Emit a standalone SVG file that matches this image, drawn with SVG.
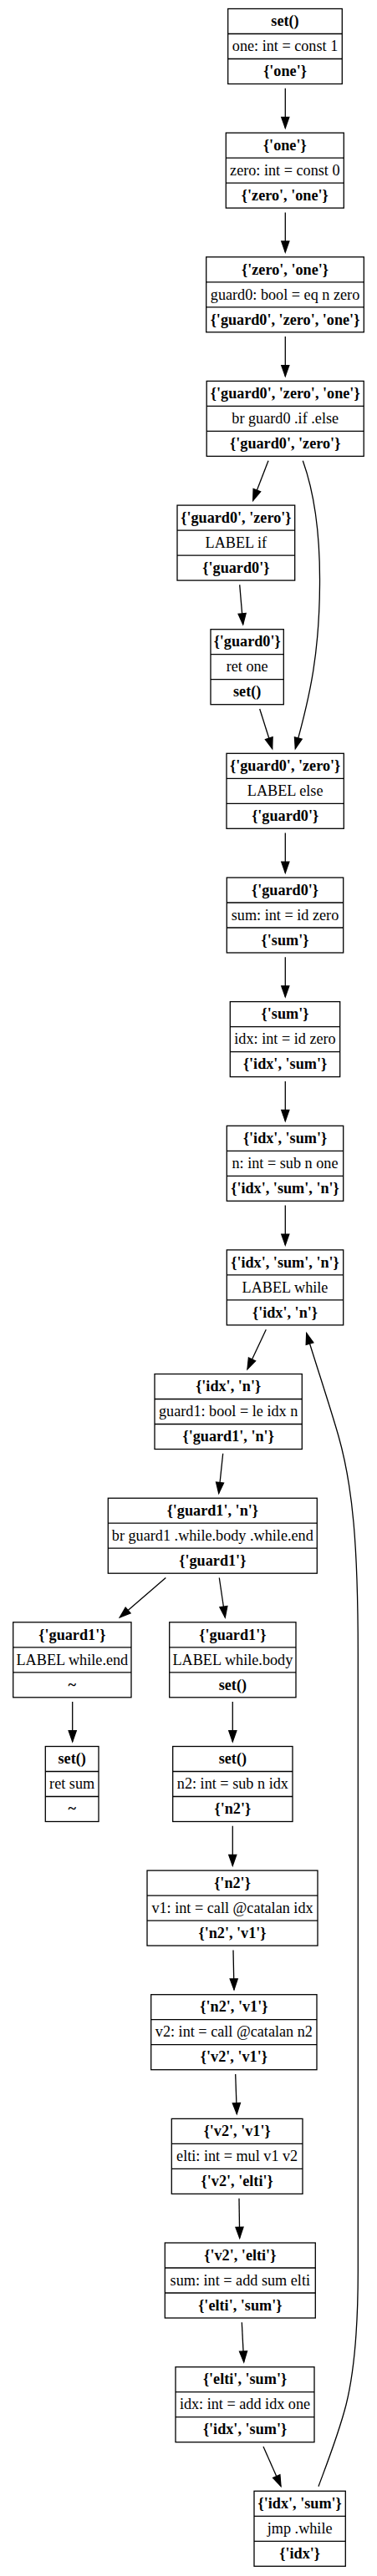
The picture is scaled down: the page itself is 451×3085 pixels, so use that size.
<svg xmlns="http://www.w3.org/2000/svg" width="451" height="3085" viewBox="0 0 451 3085">
<style>
.bx{fill:none;stroke:#000;stroke-width:1.3}
text{font-family:"Liberation Serif","Times New Roman",serif;font-size:18.2px;text-anchor:middle;fill:#000}
.b{font-weight:bold}
.e{fill:none;stroke:#000;stroke-width:1.3;marker-end:url(#arr)}
</style>
<defs>
<marker id="arr" markerUnits="userSpaceOnUse" markerWidth="16" markerHeight="12" viewBox="-1 -1 16 12" refX="13" refY="4.55" orient="auto" overflow="visible">
<path d="M0,0 L13,4.55 L0,9.1 z" fill="#000" stroke="#000" stroke-width="1.3"/>
</marker>
</defs>
<rect width="451" height="3085" fill="#fff"/>

<g id="n1" transform="translate(341,10.5)"><rect class="bx" x="-68.3" y="0" width="136.6" height="90"/><path class="bx" d="M-68.3,30H68.3M-68.3,60H68.3"/><text class="b" y="20.8">set()</text><text y="50.8">one: int = const 1</text><text class="b" y="80.8">{'one'}</text></g>

<g id="n2" transform="translate(340.8,159.1)"><rect class="bx" x="-70.5" y="0" width="141" height="90"/><path class="bx" d="M-70.5,30H70.5M-70.5,60H70.5"/><text class="b" y="20.8">{'one'}</text><text y="50.8">zero: int = const 0</text><text class="b" y="80.8">{'zero', 'one'}</text></g>

<g id="n3" transform="translate(341,307.8)"><rect class="bx" x="-94.3" y="0" width="188.6" height="90"/><path class="bx" d="M-94.3,30H94.3M-94.3,60H94.3"/><text class="b" y="20.8">{'zero', 'one'}</text><text y="50.8">guard0: bool = eq n zero</text><text class="b" y="80.8">{'guard0', 'zero', 'one'}</text></g>

<g id="n4" transform="translate(341.2,456.4)"><rect class="bx" x="-94" y="0" width="188" height="90"/><path class="bx" d="M-94,30H94M-94,60H94"/><text class="b" y="20.8">{'guard0', 'zero', 'one'}</text><text y="50.8">br guard0 .if .else</text><text class="b" y="80.8">{'guard0', 'zero'}</text></g>

<g id="n5" transform="translate(282.35,605.1)"><rect class="bx" x="-70.35" y="0" width="140.7" height="90"/><path class="bx" d="M-70.35,30H70.35M-70.35,60H70.35"/><text class="b" y="20.8">{'guard0', 'zero'}</text><text y="50.8">LABEL if</text><text class="b" y="80.8">{'guard0'}</text></g>

<g id="n6" transform="translate(295.65,753.7)"><rect class="bx" x="-43.65" y="0" width="87.3" height="90"/><path class="bx" d="M-43.65,30H43.65M-43.65,60H43.65"/><text class="b" y="20.8">{'guard0'}</text><text y="50.8">ret one</text><text class="b" y="80.8">set()</text></g>

<g id="n7" transform="translate(341.15,902.3)"><rect class="bx" x="-70.15" y="0" width="140.3" height="90"/><path class="bx" d="M-70.15,30H70.15M-70.15,60H70.15"/><text class="b" y="20.8">{'guard0', 'zero'}</text><text y="50.8">LABEL else</text><text class="b" y="80.8">{'guard0'}</text></g>

<g id="n8" transform="translate(341,1051)"><rect class="bx" x="-69.7" y="0" width="139.4" height="90"/><path class="bx" d="M-69.7,30H69.7M-69.7,60H69.7"/><text class="b" y="20.8">{'guard0'}</text><text y="50.8">sum: int = id zero</text><text class="b" y="80.8">{'sum'}</text></g>

<g id="n9" transform="translate(341,1199.6)"><rect class="bx" x="-65.7" y="0" width="131.4" height="90"/><path class="bx" d="M-65.7,30H65.7M-65.7,60H65.7"/><text class="b" y="20.8">{'sum'}</text><text y="50.8">idx: int = id zero</text><text class="b" y="80.8">{'idx', 'sum'}</text></g>

<g id="n10" transform="translate(341,1348.3)"><rect class="bx" x="-69.7" y="0" width="139.4" height="90"/><path class="bx" d="M-69.7,30H69.7M-69.7,60H69.7"/><text class="b" y="20.8">{'idx', 'sum'}</text><text y="50.8">n: int = sub n one</text><text class="b" y="80.8">{'idx', 'sum', 'n'}</text></g>

<g id="n11" transform="translate(341,1496.9)"><rect class="bx" x="-69.7" y="0" width="139.4" height="90"/><path class="bx" d="M-69.7,30H69.7M-69.7,60H69.7"/><text class="b" y="20.8">{'idx', 'sum', 'n'}</text><text y="50.8">LABEL while</text><text class="b" y="80.8">{'idx', 'n'}</text></g>

<g id="n12" transform="translate(273.15,1645.5)"><rect class="bx" x="-88.15" y="0" width="176.3" height="90"/><path class="bx" d="M-88.15,30H88.15M-88.15,60H88.15"/><text class="b" y="20.8">{'idx', 'n'}</text><text y="50.8">guard1: bool = le idx n</text><text class="b" y="80.8">{'guard1', 'n'}</text></g>

<g id="n13" transform="translate(254.3,1794.2)"><rect class="bx" x="-125" y="0" width="250" height="90"/><path class="bx" d="M-125,30H125M-125,60H125"/><text class="b" y="20.8">{'guard1', 'n'}</text><text y="50.8">br guard1 .while.body .while.end</text><text class="b" y="80.8">{'guard1'}</text></g>

<g id="n14" transform="translate(86.35,1942.8)"><rect class="bx" x="-70.65" y="0" width="141.3" height="90"/><path class="bx" d="M-70.65,30H70.65M-70.65,60H70.65"/><text class="b" y="20.8">{'guard1'}</text><text y="50.8">LABEL while.end</text><text class="b" y="80.8">~</text></g>

<g id="n15" transform="translate(278.35,1942.8)"><rect class="bx" x="-75.65" y="0" width="151.3" height="90"/><path class="bx" d="M-75.65,30H75.65M-75.65,60H75.65"/><text class="b" y="20.8">{'guard1'}</text><text y="50.8">LABEL while.body</text><text class="b" y="80.8">set()</text></g>

<g id="n16" transform="translate(86.15,2091.5)"><rect class="bx" x="-31.85" y="0" width="63.7" height="90"/><path class="bx" d="M-31.85,30H31.85M-31.85,60H31.85"/><text class="b" y="20.8">set()</text><text y="50.8">ret sum</text><text class="b" y="80.8">~</text></g>

<g id="n17" transform="translate(278.35,2091.5)"><rect class="bx" x="-71.65" y="0" width="143.3" height="90"/><path class="bx" d="M-71.65,30H71.65M-71.65,60H71.65"/><text class="b" y="20.8">set()</text><text y="50.8">n2: int = sub n idx</text><text class="b" y="80.8">{'n2'}</text></g>

<g id="n18" transform="translate(278,2240.1)"><rect class="bx" x="-102" y="0" width="204" height="90"/><path class="bx" d="M-102,30H102M-102,60H102"/><text class="b" y="20.8">{'n2'}</text><text y="50.8">v1: int = call @catalan idx</text><text class="b" y="80.8">{'n2', 'v1'}</text></g>

<g id="n19" transform="translate(279.85,2388.7)"><rect class="bx" x="-99.15" y="0" width="198.3" height="90"/><path class="bx" d="M-99.15,30H99.15M-99.15,60H99.15"/><text class="b" y="20.8">{'n2', 'v1'}</text><text y="50.8">v2: int = call @catalan n2</text><text class="b" y="80.8">{'v2', 'v1'}</text></g>

<g id="n20" transform="translate(283.65,2537.4)"><rect class="bx" x="-78.35" y="0" width="156.7" height="90"/><path class="bx" d="M-78.35,30H78.35M-78.35,60H78.35"/><text class="b" y="20.8">{'v2', 'v1'}</text><text y="50.8">elti: int = mul v1 v2</text><text class="b" y="80.8">{'v2', 'elti'}</text></g>

<g id="n21" transform="translate(287.3,2686)"><rect class="bx" x="-90" y="0" width="180" height="90"/><path class="bx" d="M-90,30H90M-90,60H90"/><text class="b" y="20.8">{'v2', 'elti'}</text><text y="50.8">sum: int = add sum elti</text><text class="b" y="80.8">{'elti', 'sum'}</text></g>

<g id="n22" transform="translate(293,2834.7)"><rect class="bx" x="-83" y="0" width="166" height="90"/><path class="bx" d="M-83,30H83M-83,60H83"/><text class="b" y="20.8">{'elti', 'sum'}</text><text y="50.8">idx: int = add idx one</text><text class="b" y="80.8">{'idx', 'sum'}</text></g>

<g id="n23" transform="translate(358.65,2983.3)"><rect class="bx" x="-54.65" y="0" width="109.3" height="90"/><path class="bx" d="M-54.65,30H54.65M-54.65,60H54.65"/><text class="b" y="20.8">{'idx', 'sum'}</text><text y="50.8">jmp .while</text><text class="b" y="80.8">{'idx'}</text></g>

<g id="edges">
<path class="e" d="M341.3,105.8 L341.3,153.3"/>
<path class="e" d="M341.3,254.4 L341.3,302"/>
<path class="e" d="M341.3,403.1 L341.3,450.6"/>
<path class="e" d="M321,551.7 L302.7,599.3"/>
<path class="e" d="M362.3,551.7 C376,590 383,640 382.5,700 C382,780 372,830 353.3,896.5"/>
<path class="e" d="M286.7,700.4 L290.7,747.9"/>
<path class="e" d="M310.7,849 L325.7,896.5"/>
<path class="e" d="M341.3,997.6 L341.3,1045.2"/>
<path class="e" d="M341.3,1146.3 L341.3,1193.8"/>
<path class="e" d="M341.3,1294.9 L341.3,1342.5"/>
<path class="e" d="M341.3,1443.6 L341.3,1491.1"/>
<path class="e" d="M318.3,1592.2 L296,1639.7"/>
<path class="e" d="M266.7,1740.8 L261.7,1788.4"/>
<path class="e" d="M198.3,1889.5 L143.3,1937"/>
<path class="e" d="M262.3,1889.5 L269.3,1937"/>
<path class="e" d="M86.7,2038.1 L86.7,2085.7"/>
<path class="e" d="M278.3,2038.1 L278.3,2085.7"/>
<path class="e" d="M278.3,2186.8 L278.3,2234.3"/>
<path class="e" d="M279,2335.4 L280,2382.9"/>
<path class="e" d="M281.7,2484 L283.3,2531.6"/>
<path class="e" d="M286,2632.7 L286.7,2680.2"/>
<path class="e" d="M289.3,2781.3 L291.7,2828.9"/>
<path class="e" d="M315,2930 L336,2977.5"/>
<path class="e" d="M381,2977.7 C392,2948 405,2915 414,2880 C424,2840 428.3,2790 428.3,2720 L428.3,1980 C428.3,1850 422,1780 405,1720 C395,1685 380,1640 366.7,1596.7"/>
</g>
</svg>
